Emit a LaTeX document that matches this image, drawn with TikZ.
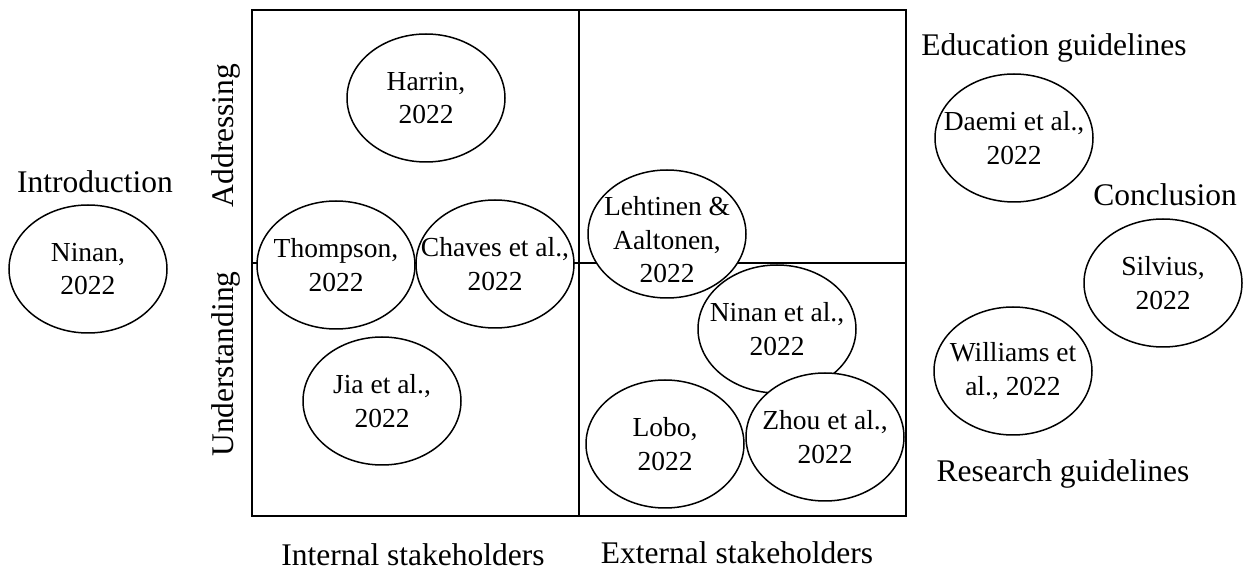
\documentclass[tikz,border=0pt]{standalone}
\usepackage{fontspec}
\setmainfont{Liberation Serif}
\usetikzlibrary{shapes.geometric}
\begin{document}
\begin{tikzpicture}[x=0.5pt,y=-0.5pt,
  ell/.style={ellipse, draw, fill=white, line width=0.75pt, minimum width=79pt, minimum height=64pt, inner sep=0pt},
  etxt/.style={align=center, font=\fontsize{13.75}{16.75}\selectfont, inner sep=0pt},
  lbl/.style={anchor=base, font=\fontsize{15.75}{19}\selectfont, inner sep=0pt},
  frame/.style={line width=1pt}]
\useasboundingbox (0,0) rectangle (1244,572);
% frame
\coordinate (tl) at (252,10);
\coordinate (br) at (906,516);
\coordinate (mt) at (579,10);
\coordinate (mb) at (579,516);
\coordinate (ml) at (252,263);
\coordinate (mr) at (906,263);
\draw[frame] (tl) rectangle (br);
\draw[frame] (mt) -- (mb);
\draw[frame] (ml) -- (mr);
% labels
\node[lbl] (intro) at (95,193) {Introduction};
\node[lbl] (edu) at (1054,56) {Education guidelines};
\node[lbl] (concl) at (1165,206) {Conclusion};
\node[lbl] (res) at (1063,482) {Research guidelines};
\node[lbl] (intst) at (413,566) {Internal stakeholders};
\node[lbl] (extst) at (737,564) {External stakeholders};
\node[lbl, rotate=90] (addr) at (233,135.5) {Addressing};
\node[lbl, rotate=90] (under) at (233,364) {Understanding};
% ellipses
\node[ell] (ninan) at (88,269) {};
\node[etxt] (ninan-t) at (ninan) {Ninan,\\2022};
\node[ell] (harrin) at (426,98) {};
\node[etxt] (harrin-t) at (harrin) {Harrin,\\2022};
\node[ell] (thompson) at (336,265) {};
\node[etxt] (thompson-t) at (thompson) {Thompson,\\2022};
\node[ell] (chaves) at (495,264) {};
\node[etxt] (chaves-t) at (chaves) {Chaves et al.,\\2022};
\node[ell] (jia) at (382,401) {};
\node[etxt] (jia-t) at (jia) {Jia et al.,\\2022};
\node[ell] (ninanet) at (777,329) {};
\node[etxt] (ninanet-t) at (ninanet) {Ninan et al.,\\2022};
\node[ell] (leht) at (667,234) {};
\node[etxt] (leht-t) at ([yshift=-3pt]leht.center) {Lehtinen \&\\Aaltonen,\\2022};
\node[ell] (lobo) at (665,444) {};
\node[etxt] (lobo-t) at (lobo) {Lobo,\\2022};
\node[ell] (zhou) at (825,437) {};
\node[etxt] (zhou-t) at (zhou) {Zhou et al.,\\2022};
\node[ell] (daemi) at (1014,138) {};
\node[etxt] (daemi-t) at (daemi) {Daemi et al.,\\2022};
\node[ell] (silvius) at (1163,283) {};
\node[etxt] (silvius-t) at (silvius) {Silvius,\\2022};
\node[ell] (williams) at (1013,371) {};
\node[etxt] (williams-t) at (williams) {Williams et\\al., 2022};
\end{tikzpicture}
\end{document}
